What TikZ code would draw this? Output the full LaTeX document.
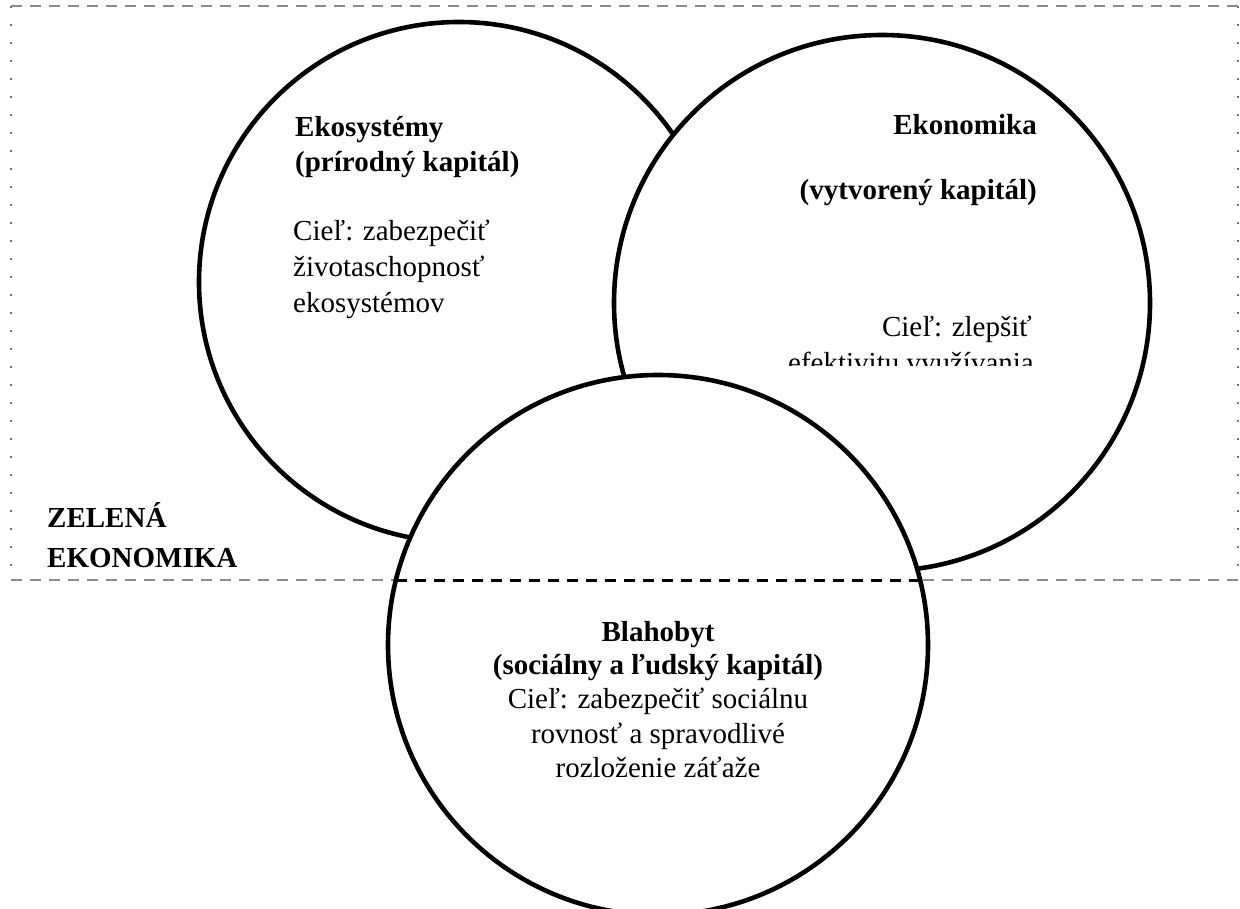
\documentclass[tikz,border=0pt]{standalone}
\usepackage{fontspec}
\setmainfont{Liberation Serif}
\begin{document}
\begin{tikzpicture}[x=1pt,y=-1pt,
  ring/.style={draw=black,line width=4.6pt,fill=white,circle,inner sep=0pt},
  body/.style={font=\fontsize{29}{35}\selectfont, inner sep=0pt},
  head/.style={font=\fontsize{29}{35}\selectfont\bfseries, inner sep=0pt},
  frameh/.style={draw=black!45, line width=2pt, dash pattern=on 11pt off 8pt},
  framev/.style={draw=black!55, line width=2pt, dash pattern=on 2pt off 16pt},
  midline/.style={draw=black, line width=3pt, dash pattern=on 11pt off 8pt}]
\useasboundingbox (0,0) rectangle (1240,909);
% frame
\coordinate (tl) at (11,6);
\coordinate (tr) at (1238,6);
\coordinate (bl) at (11,580);
\coordinate (br) at (1238,580);
\draw[frameh] (tl) -- (tr);
\draw[frameh] (bl) -- (br);
\draw[framev] (tl) -- (bl);
\draw[framev] (tr) -- (br);
% circles
\node[ring, minimum size=520pt] (eco) at (459,282) {};
\node[ring, minimum size=536pt] (econ) at (882,303) {};
\node[ring, minimum size=540pt] (well) at (658,645) {};
\coordinate (wl) at (396,580);
\coordinate (wr) at (920,580);
\draw[midline] (wl) -- (wr);
% left circle text
\node[head, anchor=base west] (ecoA) at (295,137) {Ekosystémy};
\node[head, anchor=base west] (ecoB) at (295,172) {(prírodný kapitál)};
\node[body, anchor=base west] (ecoC) at (293,241) {Cieľ: zabezpečiť};
\node[body, anchor=base west] (ecoD) at (293,277) {životaschopnosť};
\node[body, anchor=base west] (ecoE) at (293,313) {ekosystémov};
% right circle text
\node[head, anchor=base east] (econA) at (1037,135) {Ekonomika};
\node[head, anchor=base east] (econB) at (1037,200) {(vytvorený kapitál)};
\node[body, anchor=base east] (econC) at (1032,337) {Cieľ: zlepšiť};
\begin{scope}
\clip (600,340) rectangle (1100,366);
\node[body, anchor=base east] (econD) at (1034,373) {efektivitu využívania};
\end{scope}
% bottom circle text
\node[head, anchor=base] (wellA) at (658,641) {Blahobyt};
\node[head, anchor=base] (wellB) at (658,674) {(sociálny a ľudský kapitál)};
\node[body, anchor=base] (wellC) at (658,708) {Cieľ: zabezpečiť sociálnu};
\node[body, anchor=base] (wellD) at (658,743) {rovnosť a spravodlivé};
\node[body, anchor=base] (wellE) at (658,777) {rozloženie záťaže};
% green economy label
\node[head, anchor=base west] (geA) at (47,527) {ZELENÁ};
\begin{scope}
\clip (0,535) rectangle (400,567);
\node[head, anchor=base west] (geB) at (47,567) {EKONOMIKA};
\end{scope}
\end{tikzpicture}
\end{document}
